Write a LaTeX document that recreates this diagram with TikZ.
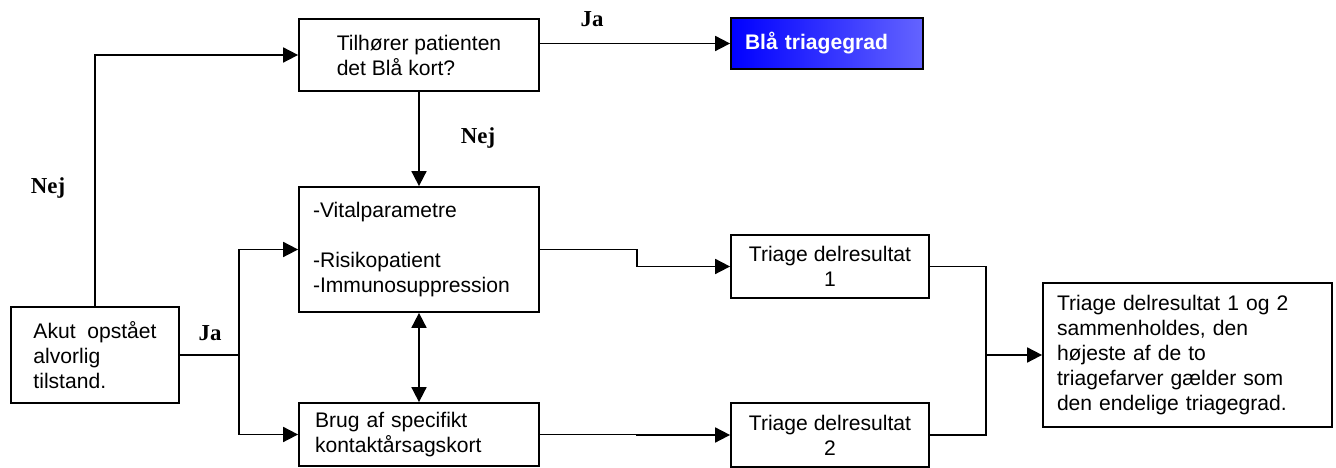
\documentclass[tikz,border=0pt]{standalone}
\usepackage{fontspec}
\setmainfont{Liberation Sans}
\newfontfamily\answerfont{Liberation Serif}
\usetikzlibrary{arrows.meta}

\definecolor{triageblue}{RGB}{0,0,255}
\definecolor{triagelight}{RGB}{100,100,255}

\tikzset{
    box/.style={draw, line width=1pt, inner ysep=2pt, font=\fontsize{12}{14.2}\selectfont},
    answer/.style={font=\answerfont\bfseries\fontsize{13}{15}\selectfont},
    line/.style={line width=1pt},
    arr/.style={line width=1pt, -{Triangle[length=0.3cm,width=0.3cm]}},
    dblarr/.style={line width=1pt, {Triangle[length=0.3cm,width=0.3cm]}-{Triangle[length=0.3cm,width=0.3cm]}},
}

\begin{document}
\begin{tikzpicture}
    \useasboundingbox (0,0) rectangle (26.72,9.36);

    % start
    \node [box, minimum width=3.36cm, minimum height=1.92cm, align=left] (akut) at (1.90,2.26) {Akut\ \ opstået\\alvorlig\\tilstand.};

    % blue card question
    \node [box, minimum width=4.8cm, minimum height=1.44cm, align=left] (kort) at (8.38,8.26) {Tilhører patienten\\det Blå kort?};
    \node [box, text width=3.28cm, inner xsep=0.28cm, minimum height=1.02cm, align=left,
           left color=triageblue, right color=triagelight, text=white,
           font=\fontsize{12}{14.2}\selectfont\bfseries] (blaa) at (16.54,8.49) {Blå triagegrad};

    % the two parts
    \node [box, text width=4.24cm, inner xsep=0.28cm, minimum height=2.5cm, align=left] (vital) at (8.38,4.37) {-Vitalparametre\\[14.2pt]-Risikopatient\\-Immunosuppression};
    \node [box, text width=4.16cm, inner xsep=0.32cm, minimum height=1.26cm, align=left] (brug) at (8.38,0.67) {Brug af specifikt\\kontaktårsagskort};

    % part results
    \node [box, minimum width=3.96cm, minimum height=1.26cm, align=center] (delA) at (16.6,4.03) {Triage delresultat\\1};
    \node [box, minimum width=3.96cm, minimum height=1.28cm, align=center] (delB) at (16.6,0.66) {Triage delresultat\\2};

    % final
    \node [box, text width=5.22cm, inner xsep=0.28cm, minimum height=2.88cm, align=left] (samlet) at (23.75,2.26) {Triage delresultat 1 og 2\\sammenholdes, den\\højeste af de to\\triagefarver gælder som\\den endelige triagegrad.};

    \coordinate (split) at (4.78,2.26);
    \coordinate (join)  at (19.72,2.26);

    % connectors
    \draw [arr] (akut.north) |- (kort.west);
    \draw [arr] (kort.east |- blaa.west) -- (blaa.west);
    \draw [arr] (kort.south) -- (vital.north);
    \draw [line] (akut.east) -- (split);
    \draw [arr] (split) |- (vital.west);
    \draw [arr] (split) |- (brug.west);
    \draw [dblarr] (vital.south) -- (brug.north);
    \draw [arr] (vital.east) -- ++(1.94,0) |- (delA.west);
    \draw [arr] (brug.east) -- ++(1.94,0) |- (delB.west);
    \draw [line] (delA.east) -| (join);
    \draw [line] (delB.east) -| (join);
    \draw [arr] (join) -- (samlet.west);

    % answers
    \node [answer] (jaTop)   at (11.84,8.98) {Ja};
    \node [answer] (nejMid)  at (9.56,6.60)  {Nej};
    \node [answer] (nejLeft) at (0.96,5.60)  {Nej};
    \node [answer] (jaLeft)  at (4.20,2.70)  {Ja};

\end{tikzpicture}
\end{document}
